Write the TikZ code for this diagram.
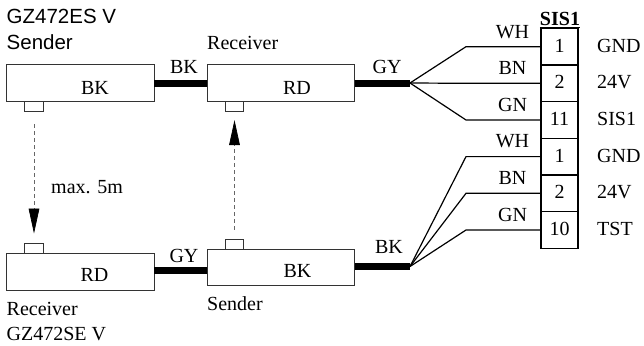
\documentclass[tikz,border=0pt]{standalone}
\usepackage{fontspec}
\setmainfont{Liberation Serif}
\newfontfamily\headfont{Liberation Sans}
\usetikzlibrary{arrows.meta}
\tikzset{
    unitbox/.style={draw=black!80,line width=0.8pt,fill=white,minimum width=147.5pt,minimum height=36.3pt,inner sep=0pt,outer sep=0pt},
    tabbox/.style={draw=black!80,line width=0.8pt,fill=white,minimum width=18.5pt,minimum height=10.2pt,inner sep=0pt,outer sep=0pt},
    pinbox/.style={draw=black,line width=1.2pt,minimum width=37pt,minimum height=36.6pt,inner sep=0pt,outer sep=0pt},
    cable/.style={line width=7pt},
    wire/.style={line width=1.2pt},
    gapline/.style={black!60,line width=0.7pt,dash pattern=on 4pt off 3pt,-{Triangle[length=25pt,width=10.7pt,black]}},
    txt/.style={anchor=base,inner sep=0pt,font=\fontsize{20}{22}\selectfont},
    txtl/.style={txt,anchor=base west},
    sans/.style={txtl,font=\fontsize{20.5}{22}\selectfont\headfont}
}
\begin{document}
\begin{tikzpicture}[x=1pt,y=-1pt]
    \useasboundingbox (0,0) rectangle (644,345);

    % the four units
    \node[unitbox] (senderA) at (80.25,83) {};
    \node[unitbox] (receiverA) at (281,83) {};
    \node[unitbox] (receiverB) at (80.25,272) {};
    \node[unitbox] (senderB) at (281,267.5) {};
    \node[tabbox] (tabA) at (34,106) {};
    \node[tabbox] (tabB) at (234.5,106) {};
    \node[tabbox] (tabC) at (34,248.6) {};
    \node[tabbox] (tabD) at (234.5,244) {};

    % cables
    \coordinate (fanA) at (410,83);
    \coordinate (fanB) at (410,266.5);
    \coordinate (lowL) at (154,270.7);
    \coordinate (lowR) at (207,270.7);
    \coordinate (lowS) at (355,266.5);
    \draw[cable] (senderA.east) -- (receiverA.west);
    \draw[cable] (receiverA.east) -- (fanA);
    \draw[cable] (lowL) -- (lowR);
    \draw[cable] (lowS) -- (fanB);

    % light path between the units
    \draw[gapline,shorten <=13pt,shorten >=10pt] (tabA) -- (tabC);
    \draw[gapline,shorten <=9pt,shorten >=9pt] (tabD) -- (tabB);

    % terminal block, wires
    \foreach \row/\ypos/\pin/\sig/\col/\fan in {1/46.7/1/GND/WH/fanA,2/83.3/2/24V/BN/fanA,3/120/11/SIS1/GN/fanA,
        4/156.6/1/GND/WH/fanB,5/193.3/2/24V/BN/fanB,6/230/10/TST/GN/fanB}{
        \node[pinbox] (pin\row) at (559.5,\ypos) {};
        \node[txt] (num\row) at ([yshift=-5.5pt]pin\row.center) {\pin};
        \node[txtl] (sig\row) at ([xshift=19pt,yshift=-5.5pt]pin\row.east) {\sig};
        \node[txt] (col\row) at ([xshift=-28.5pt,yshift=8.7pt]pin\row.west) {\col};
        \coordinate (bend\row) at ([xshift=-75pt]pin\row.west);
        \draw[wire] (\fan) -- (bend\row) -- (pin\row.west);
    }
    \node[txt,font=\fontsize{20}{22}\selectfont\bfseries] (title) at (560,25.5) {\underline{SIS1}};

    % labels
    \node[sans] (nameA) at (6.5,24) {GZ472ES V};
    \node[sans] (roleA) at (6.5,49) {Sender};
    \node[txtl] (roleB) at (207,49) {Receiver};
    \node[txt] (capA) at (95,94) {BK};
    \node[txt] (capB) at (297,94) {RD};
    \node[txt] (capC) at (94.5,281) {RD};
    \node[txt] (capD) at (297.5,277) {BK};
    \node[txt] (cabA) at (184,73) {BK};
    \node[txt] (cabB) at (387,74) {GY};
    \node[txt] (cabC) at (184,262.5) {GY};
    \node[txt] (cabD) at (389,253) {BK};
    \node[txtl] (dist) at (51,193) {max. 5m};
    \node[txtl] (roleD) at (207,310) {Sender};
    \node[txtl] (roleC) at (6.5,315.5) {Receiver};
    \node[txtl] (nameC) at (6.5,340) {GZ472SE V};
\end{tikzpicture}
\end{document}
